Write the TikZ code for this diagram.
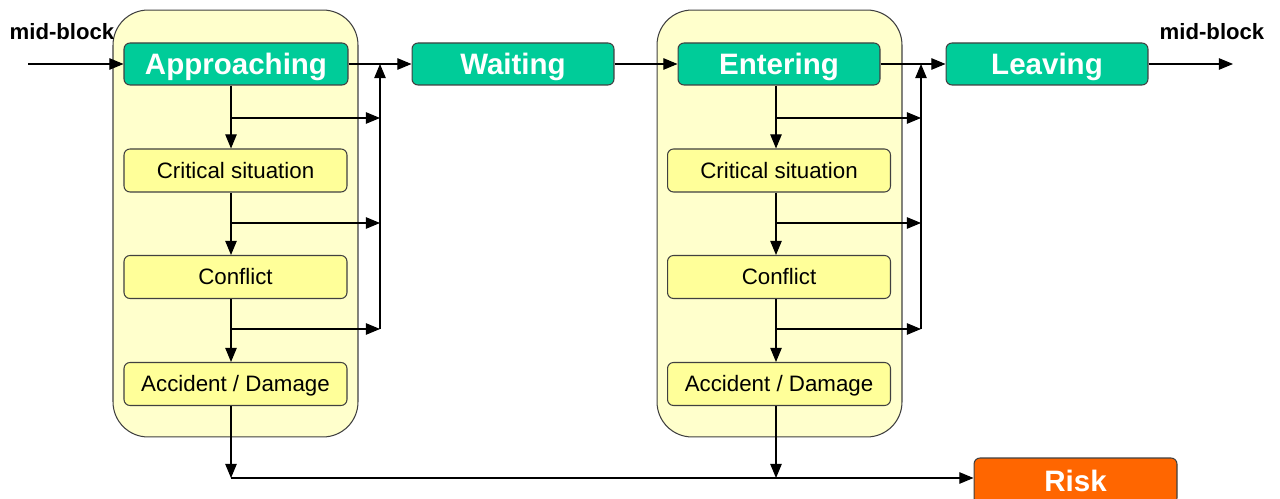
\documentclass[tikz,border=0pt]{standalone}
\usepackage{fontspec}
\setmainfont{Liberation Sans}
\usetikzlibrary{arrows.meta,calc}
\definecolor{stategreen}{HTML}{00CC99}
\definecolor{riskorange}{HTML}{FF6600}
\definecolor{subyellow}{HTML}{FFFF99}
\definecolor{contyellow}{HTML}{FFFFCC}
\definecolor{edgegray}{HTML}{404040}
\tikzset{
  px/.style={x=0.02cm,y=-0.02cm},
  container/.style={draw=edgegray,fill=contyellow,rounded corners=0.7cm,line width=0.6pt,minimum width=4.9cm,minimum height=8.54cm,inner sep=0pt},
  mainstate/.style={draw=edgegray,fill=stategreen,rounded corners=0.12cm,line width=0.6pt,text=white,font=\bfseries\fontsize{16.8}{18}\selectfont,inner sep=0pt,minimum height=0.84cm,text height=12pt,text depth=0pt},
  substate/.style={draw=edgegray,fill=subyellow,rounded corners=0.12cm,line width=0.6pt,font=\fontsize{12.7}{14}\selectfont,inner sep=0pt,minimum width=4.46cm,minimum height=0.86cm,text height=9.1pt,text depth=0pt},
  riskbox/.style={draw=edgegray,fill=riskorange,rounded corners=0.12cm,line width=0.6pt,text=white,font=\bfseries\fontsize{16.8}{18}\selectfont,inner sep=0pt,minimum width=4.06cm,minimum height=0.92cm,text height=12pt,text depth=0pt},
  lbl/.style={font=\bfseries\fontsize{12.6}{14}\selectfont,inner sep=0pt},
  conn/.style={line width=0.6pt,-{Triangle[length=8pt,width=6.5pt]}},
}
\begin{document}
\begin{tikzpicture}[px]
\useasboundingbox (0,0) rectangle (1280,499);
\clip (0,0) rectangle (1280,499);
% containers
\node[container] (cont1) at (235.5,223.5) {};
\node[container] (cont2) at (779.5,223.5) {};
% main states
\node[mainstate,minimum width=4.48cm] (app) at (236,64) {Approaching};
\node[mainstate,minimum width=4.04cm] (wait) at (513,64) {Waiting};
\node[mainstate,minimum width=4.04cm] (ent) at (779,64) {Entering};
\node[mainstate,minimum width=4.04cm] (leave) at (1047,64) {Leaving};
% sub states
\node[substate] (crit1) at (235.5,170.5) {Critical situation};
\node[substate] (conf1) at (235.5,277) {Conflict};
\node[substate] (acc1) at (235.5,384) {Accident / Damage};
\node[substate] (crit2) at (779,170.5) {Critical situation};
\node[substate] (conf2) at (779,277) {Conflict};
\node[substate] (acc2) at (779,384) {Accident / Damage};
% risk
\node[riskbox] (risk) at (1075.5,481) {Risk};
% labels
\node[lbl] (mb1) at (62,32) {mid-block};
\node[lbl] (mb2) at (1212,32) {mid-block};
% column coordinates
\coordinate (colL) at (231,0);
\coordinate (colR) at (776,0);
\coordinate (collL) at (380,0);
\coordinate (collR) at (921,0);
\coordinate (in) at (28,64);
\coordinate (out) at (1233,64);
\coordinate (bot) at (0,478);
% main flow
\draw[conn] (in) -- (app.west);
\draw[conn] (app.east) -- (wait.west);
\draw[conn] (wait.east) -- (ent.west);
\draw[conn] (ent.east) -- (leave.west);
\draw[conn] (leave.east) -- (out);
% left column
\draw[conn] (app.south -| colL) -- (crit1.north -| colL);
\draw[conn] (crit1.south -| colL) -- (conf1.north -| colL);
\draw[conn] (conf1.south -| colL) -- (acc1.north -| colL);
\coordinate (bL1) at (231,118);
\coordinate (bL2) at (231,223);
\coordinate (bL3) at (231,329);
\draw[conn] (bL1) -- (bL1 -| collL);
\draw[conn] (bL2) -- (bL2 -| collL);
\draw[conn] (bL3) -- (bL3 -| collL);
\draw[conn] (bL3 -| collL) -- (app.east -| collL);
% right column
\draw[conn] (ent.south -| colR) -- (crit2.north -| colR);
\draw[conn] (crit2.south -| colR) -- (conf2.north -| colR);
\draw[conn] (conf2.south -| colR) -- (acc2.north -| colR);
\coordinate (bR1) at (776,118);
\coordinate (bR2) at (776,223);
\coordinate (bR3) at (776,329);
\draw[conn] (bR1) -- (bR1 -| collR);
\draw[conn] (bR2) -- (bR2 -| collR);
\draw[conn] (bR3) -- (bR3 -| collR);
\draw[conn] (bR3 -| collR) -- (ent.east -| collR);
% to risk
\draw[conn] (acc1.south -| colL) -- (bot -| colL);
\draw[conn] (acc2.south -| colR) -- (bot -| colR);
\draw[conn] (bot -| colL) -- (risk.west |- bot);
\end{tikzpicture}
\end{document}
